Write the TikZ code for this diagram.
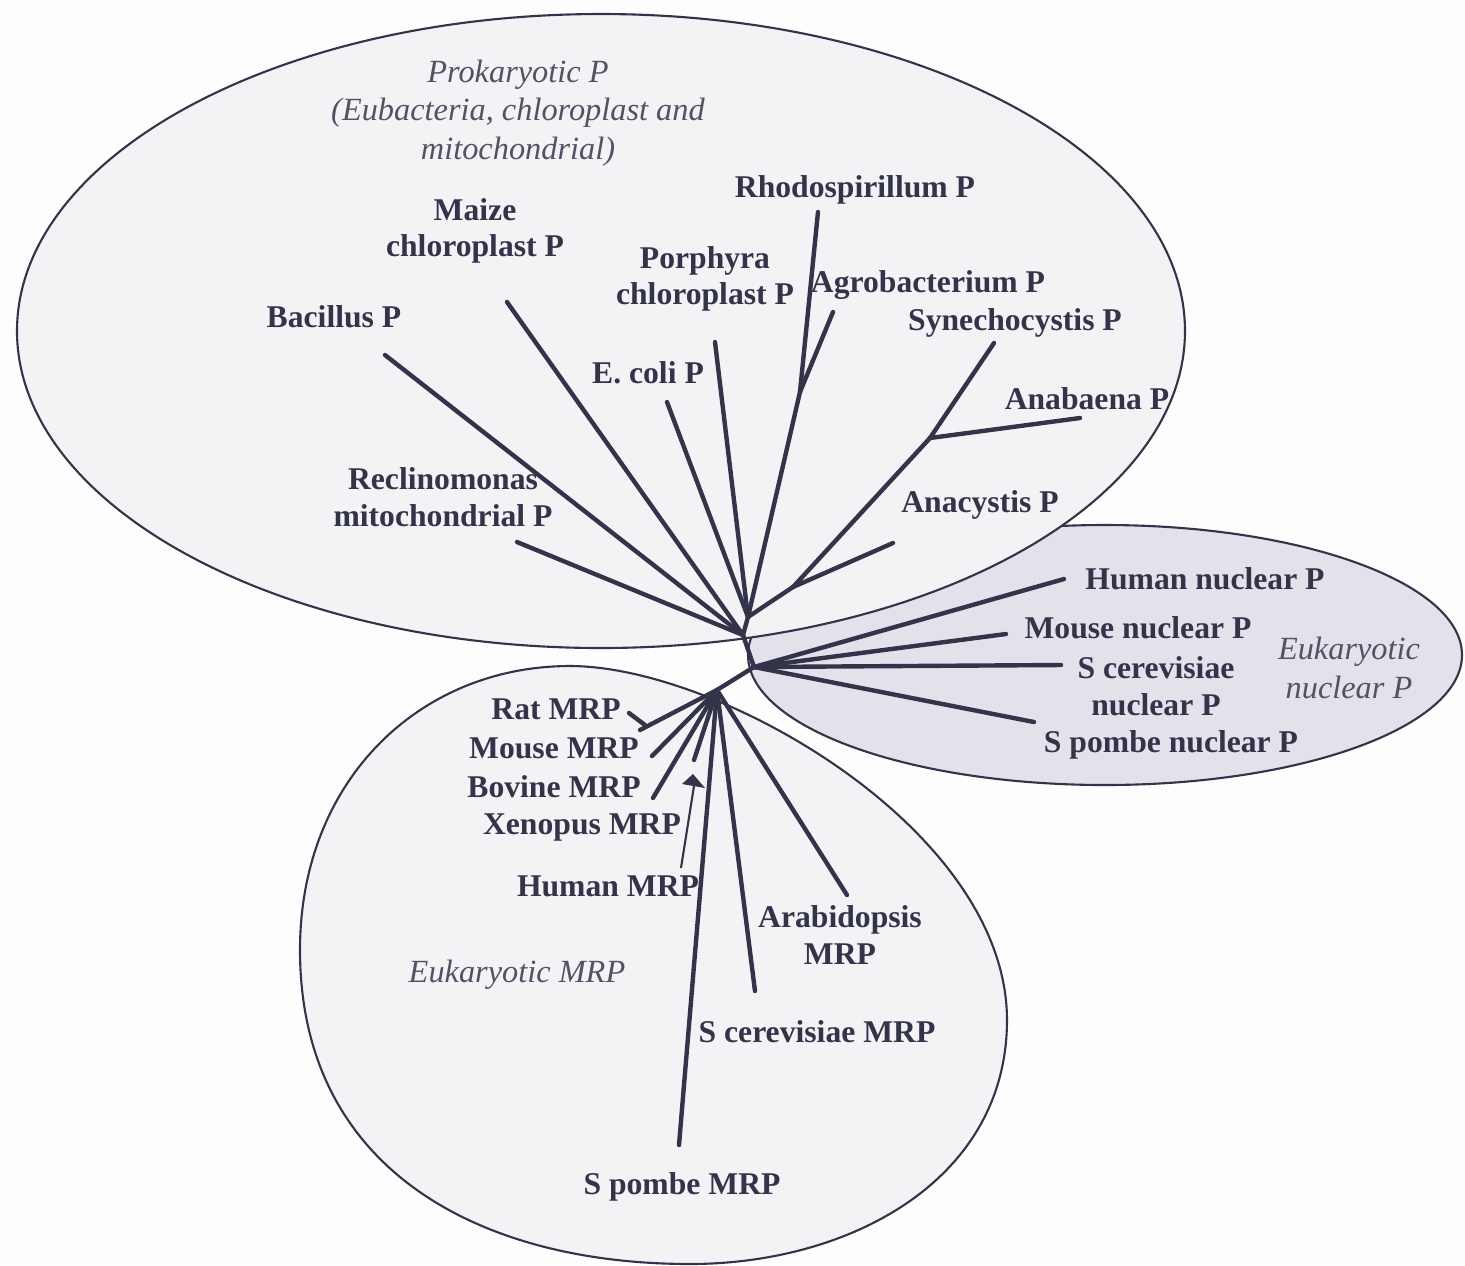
\documentclass[tikz,border=0pt]{standalone}
\usepackage{fontspec}
\setmainfont{Liberation Serif}
\usepackage{xcolor}
\usepackage{tikz}

\definecolor{ink}{HTML}{33334A}
\definecolor{paper}{HTML}{FDFDFD}
\definecolor{cloud}{HTML}{F3F3F5}
\definecolor{nucfill}{HTML}{E4E1EA}

\begin{document}
\begin{tikzpicture}[
  x=0.01cm, y=-0.01cm,
  leaf/.style={font=\fontsize{9}{10.4}\selectfont\bfseries, text=ink,
    align=center, inner sep=0pt},
  group/.style={font=\fontsize{9.2}{10.9}\selectfont\itshape, text=ink!85,
    align=center, inner sep=0pt},
  rim/.style={draw=ink, line width=0.6pt},
  br/.style={draw=ink, line width=1.25pt, line cap=round},
  lead/.style={draw=ink, line width=0.6pt}
]
\fill[paper] (0,0) rectangle (1465,1265);
\useasboundingbox (0,0) rectangle (1465,1265);

% the three groups
\draw[rim, fill=nucfill] (1105,655) ellipse [x radius=357, y radius=130];
\draw[rim, fill=cloud] (601,331) ellipse [x radius=584, y radius=317];
\draw[rim, fill=cloud] (570,666) .. controls (720,666) and (1007,830) .. (1007,1020)
  .. controls (1007,1180) and (850,1264) .. (690,1264)
  .. controls (480,1264) and (300,1170) .. (300,950)
  .. controls (300,780) and (420,666) .. cycle;

% inner nodes of the tree
\coordinate (proot) at (743,635);
\coordinate (qnode) at (748,617);
\coordinate (nroot) at (754,667);
\coordinate (mroot) at (717,690);
\coordinate (rhag) at (800,392);
\coordinate (cyano) at (793,587);
\coordinate (syan) at (930,438);
\coordinate (ratfork) at (645,725);

% branch tips
\coordinate (t-rhodo) at (818,212);
\coordinate (t-agro) at (833,312);
\coordinate (t-syn) at (994,343);
\coordinate (t-ana) at (1080,418);
\coordinate (t-anacy) at (893,543);
\coordinate (t-ecoli) at (667,402);
\coordinate (t-porph) at (715,342);
\coordinate (t-maize) at (507,302);
\coordinate (t-bac) at (385,355);
\coordinate (t-recl) at (517,542);
\coordinate (t-hnuc) at (1064,579);
\coordinate (t-mnuc) at (1006,634);
\coordinate (t-scnuc) at (1061,665);
\coordinate (t-spnuc) at (1034,722);
\coordinate (t-rat) at (640,730);
\coordinate (t-rat2) at (629,713);
\coordinate (t-mouse) at (652,756);
\coordinate (t-bov) at (653,798);
\coordinate (t-xen) at (694,760);
\coordinate (t-spom) at (679,1145);
\coordinate (t-scer) at (755,991);
\coordinate (t-arab) at (847,895);
\coordinate (hm-foot) at (681,868);
\coordinate (hm-head) at (694,786);

% labels
\node[group] (prok) at (518,113) {Prokaryotic P\\(Eubacteria, chloroplast and\\mitochondrial)};
\node[group] (euknuc) at (1349,668) {Eukaryotic\\nuclear P};
\node[group] (eukmrp) at (517,975) {Eukaryotic MRP};

\node[leaf] (rhodo) at (855,190) {Rhodospirillum P};
\node[leaf] (maize) at (475,231) {Maize\\chloroplast P};
\node[leaf] (porph) at (705,279) {Porphyra\\chloroplast P};
\node[leaf] (agro) at (928,285) {Agrobacterium P};
\node[leaf] (syn) at (1015,323) {Synechocystis P};
\node[leaf] (bac) at (334,317) {Bacillus P};
\node[leaf] (ecoli) at (648,373) {E. coli P};
\node[leaf] (ana) at (1087,399) {Anabaena P};
\node[leaf] (recl) at (443,497) {Reclinomonas\\mitochondrial P};
\node[leaf] (anacy) at (980,505) {Anacystis P};

\node[leaf] (hnuc) at (1205,579) {Human nuclear P};
\node[leaf] (mnuc) at (1138,628) {Mouse nuclear P};
\node[leaf] (scnuc) at (1156,686) {S cerevisiae\\nuclear P};
\node[leaf] (spnuc) at (1171,745) {S pombe nuclear P};

\node[leaf] (rat) at (556,709) {Rat MRP};
\node[leaf] (mouse) at (554,748) {Mouse MRP};
\node[leaf] (bov) at (554,787) {Bovine MRP};
\node[leaf] (xen) at (582,827) {Xenopus MRP};
\node[leaf] (hum) at (608,886) {Human MRP};
\node[leaf] (arab) at (840,935) {Arabidopsis\\MRP};
\node[leaf] (scer) at (817,1032) {S cerevisiae MRP};
\node[leaf] (spom) at (682,1187) {S pombe MRP};

% prokaryotic branches
\draw[br] (proot) -- (qnode);
\draw[br] (proot) -- (t-maize);
\draw[br] (proot) -- (t-bac);
\draw[br] (proot) -- (t-recl);
\draw[br] (qnode) -- (t-ecoli);
\draw[br] (qnode) -- (t-porph);
\draw[br] (qnode) -- (rhag);
\draw[br] (rhag) -- (t-rhodo);
\draw[br] (rhag) -- (t-agro);
\draw[br] (qnode) -- (cyano);
\draw[br] (cyano) -- (t-anacy);
\draw[br] (cyano) -- (syan);
\draw[br] (syan) -- (t-syn);
\draw[br] (syan) -- (t-ana);

% nuclear branches
\draw[br] (proot) -- (nroot);
\draw[br] (nroot) -- (t-hnuc);
\draw[br] (nroot) -- (t-mnuc);
\draw[br] (nroot) -- (t-scnuc);
\draw[br] (nroot) -- (t-spnuc);

% MRP branches
\draw[br] (nroot) -- (mroot);
\draw[br] (mroot) -- (t-rat);
\draw[br] (ratfork) -- (t-rat2);
\draw[br] (mroot) -- (t-mouse);
\draw[br] (mroot) -- (t-bov);
\draw[br] (mroot) -- (t-xen);
\draw[br] (mroot) -- (t-spom);
\draw[br] (mroot) -- (t-scer);
\draw[br] (mroot) -- (t-arab);
\draw[lead] (hm-foot) -- (hm-head);
\fill[ink] (hm-head) ++(-12,-2) -- ++(11,-10) -- ++(12,14) -- cycle;
\end{tikzpicture}
\end{document}
